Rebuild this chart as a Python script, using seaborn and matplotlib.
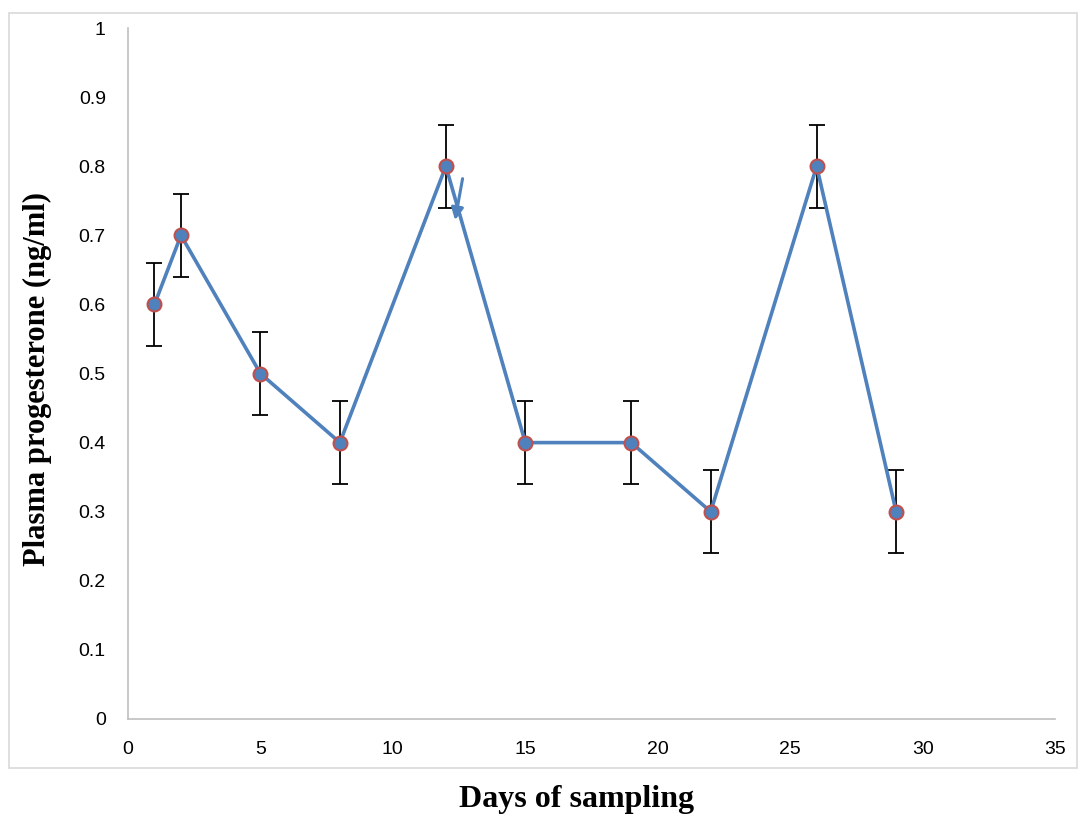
import matplotlib
matplotlib.use("Agg")
import matplotlib.pyplot as plt
import matplotlib.patches as mpatches
import pandas as pd
import seaborn as sns

days = [1, 2, 5, 8, 12, 15, 19, 22, 26, 29]
progesterone = [0.6, 0.7, 0.5, 0.4, 0.8, 0.4, 0.4, 0.3, 0.8, 0.3]
errors = [0.06, 0.06, 0.06, 0.06, 0.06, 0.06, 0.06, 0.06, 0.06, 0.06]
x_ticks = [0, 5, 10, 15, 20, 25, 30, 35]
y_ticks = [0, 0.1, 0.2, 0.3, 0.4, 0.5, 0.6, 0.7, 0.8, 0.9, 1]
arrow_tail = (12.65, 0.786)
arrow_head = (12.33, 0.718)


def main():
	sns.set_theme(style="white")
	plt.rcParams["font.family"] = ["Liberation Sans", "DejaVu Sans"]

	df = pd.DataFrame({"day": days, "value": progesterone, "err": errors})

	fig = plt.figure(figsize=(10.81, 8.15), dpi=100)
	ax = fig.add_axes([0.1184, 0.1178, 0.8576, 0.8478])

	# error bars first so the line and markers sit on top
	ax.errorbar(
		df["day"], df["value"], yerr=df["err"],
		fmt="none", ecolor="black", elinewidth=1.3, capsize=6, capthick=1.3, zorder=2
	)
	sns.lineplot(
		data=df, x="day", y="value", ax=ax,
		color="#4f81bd", linewidth=2.6, marker="o", markersize=10,
		markerfacecolor="#4f81bd", markeredgecolor="#c0504d", markeredgewidth=1.5,
		zorder=3
	)
	ax.annotate(
		"", xy=arrow_head, xytext=arrow_tail,
		arrowprops=dict(arrowstyle="-|>", color="#4f81bd", lw=2.2, mutation_scale=18),
		zorder=4
	)

	ax.set_xlim(0, 35)
	ax.set_ylim(0, 1)
	ax.set_xticks(x_ticks)
	ax.set_yticks(y_ticks)
	ax.set_yticklabels([f"{v:g}" for v in y_ticks])
	ax.tick_params(axis="both", length=0, labelsize=14, colors="black")
	ax.tick_params(axis="y", pad=16)
	ax.tick_params(axis="x", pad=16)
	for side in ["top", "right"]:
		ax.spines[side].set_visible(False)
	for side in ["left", "bottom"]:
		ax.spines[side].set_color("#bfbfbf")
		ax.spines[side].set_linewidth(1.2)

	serif = ["Liberation Serif", "DejaVu Serif"]
	ax.set_xlabel("")
	ax.set_ylabel("")
	fig.text(
		37 / 1081, 1 - 379 / 815, "Plasma progesterone (ng/ml)", rotation=90,
		ha="center", va="center", fontsize=22, fontweight="bold",
		family=serif, color="black"
	)
	fig.text(
		577 / 1081, 1 - 800 / 815, "Days of sampling", ha="center", va="center",
		fontsize=23, fontweight="bold", family=serif, color="black"
	)

	border = mpatches.Rectangle(
		(9 / 1081, 1 - 768 / 815), (1077 - 9) / 1081, (768 - 13) / 815,
		transform=fig.transFigure, fill=False, edgecolor="#d9d9d9", linewidth=1.2
	)
	fig.add_artist(border)

	fig.savefig("out.png", dpi=100)
	plt.close(fig)


if __name__ == "__main__":
	main()
